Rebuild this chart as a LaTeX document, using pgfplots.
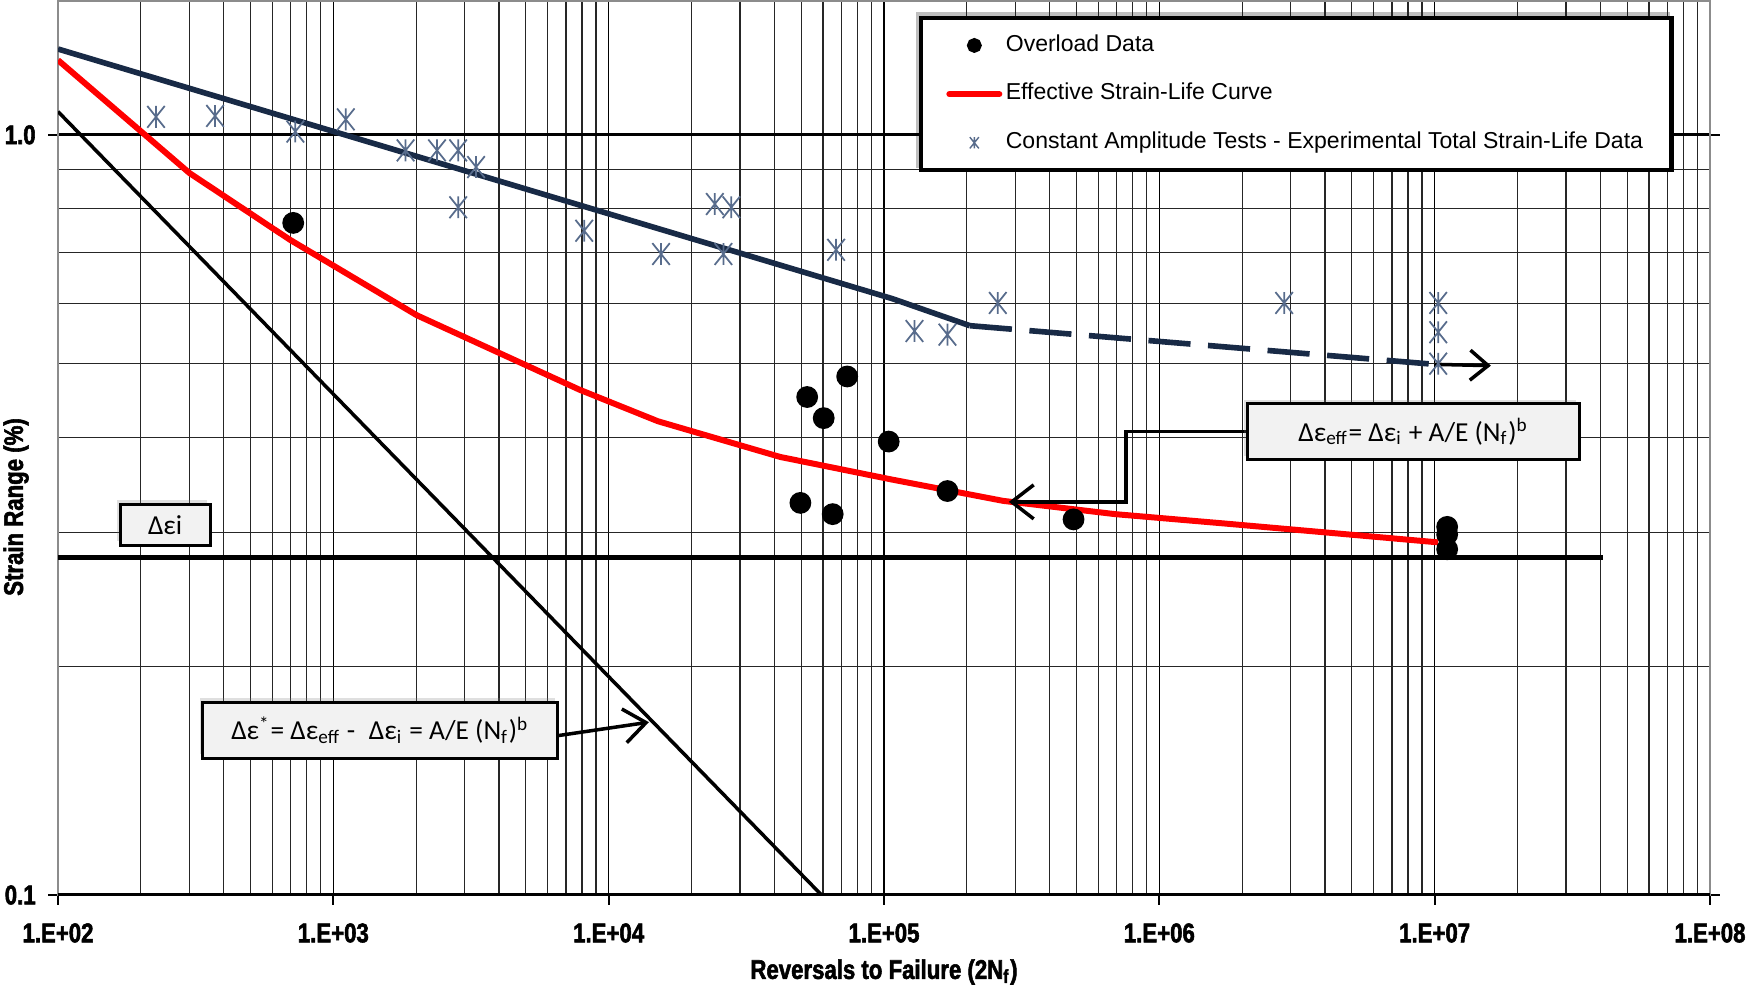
\documentclass[border=0pt]{standalone}
\usepackage{fontspec}
\setmainfont{Liberation Sans}
\newfontfamily\condfont[FakeStretch=0.82,FakeBold=2]{Liberation Sans}
\newfontfamily\boxfont{Carlito}
\usepackage{pgfplots}
\pgfplotsset{compat=1.18}
\usetikzlibrary{arrows.meta,shadows}
\pgfdeclarelayer{background}
\pgfsetlayers{background,main}

\definecolor{navy}{RGB}{24,42,70}
\definecolor{astblue}{RGB}{88,108,140}
\definecolor{boxgray}{RGB}{242,242,242}

% Excel-style star: an x with a vertical bar through it
\pgfdeclareplotmark{xstar}{%
  \pgfpathmoveto{\pgfqpoint{-0.8\pgfplotmarksize}{-\pgfplotmarksize}}%
  \pgfpathlineto{\pgfqpoint{0.8\pgfplotmarksize}{\pgfplotmarksize}}%
  \pgfpathmoveto{\pgfqpoint{-0.8\pgfplotmarksize}{\pgfplotmarksize}}%
  \pgfpathlineto{\pgfqpoint{0.8\pgfplotmarksize}{-\pgfplotmarksize}}%
  \pgfpathmoveto{\pgfqpoint{0pt}{-\pgfplotmarksize}}%
  \pgfpathlineto{\pgfqpoint{0pt}{\pgfplotmarksize}}%
  \pgfusepathqstroke}

% shorter legend images
\pgfplotsset{
  marklegend/.style={legend image code/.code={\draw[##1] plot coordinates {(0.25cm,0cm)};}},
  linelegend/.style={legend image code/.code={\draw[##1] (0cm,0cm) -- (0.5cm,0cm);}},
}

\tikzset{anbox/.style={draw=black, line width=0.9pt, fill=boxgray,
    font=\boxfont\fontsize{7.8}{9}\selectfont, inner sep=1pt, align=center,
    drop shadow={shadow xshift=-0.3mm, shadow yshift=0.4mm, opacity=0.25}}}

\begin{document}
\begin{tikzpicture}
\begin{axis}[
  scale only axis, width=165.2mm, height=89.4mm,
  xmode=log, ymode=log,
  xmin=1e2, xmax=1e8, ymin=0.1, ymax=1.5,
  xtick={1e2,1e3,1e4,1e5,1e6,1e7,1e8},
  xticklabels={1.E+02,1.E+03,1.E+04,1.E+05,1.E+06,1.E+07,1.E+08},
  ytick={0.1,1}, yticklabels={0.1,1.0},
  minor xtick={2e2,3e2,4e2,5e2,6e2,7e2,8e2,9e2,2e3,3e3,4e3,5e3,6e3,7e3,8e3,9e3,
    2e4,3e4,4e4,5e4,6e4,7e4,8e4,9e4,2e5,3e5,4e5,5e5,6e5,7e5,8e5,9e5,
    2e6,3e6,4e6,5e6,6e6,7e6,8e6,9e6,2e7,3e7,4e7,5e7,6e7,7e7,8e7,9e7},
  minor ytick={0.2,0.3,0.4,0.5,0.6,0.7,0.8,0.9},
  grid=both,
  major x grid style={black, line width=0.4pt},
  major y grid style={black, line width=0.8pt},
  minor grid style={black!85, line width=0.35pt},
  axis line style={black!45, line width=0.5pt},
  tick align=outside, major tick length=1mm, minor tick length=0pt,
  tick style={black, line width=0.6pt},
  tick label style={font=\condfont\bfseries\fontsize{7.7}{9}\selectfont},
  xticklabel style={yshift=-0.6mm},
  label style={font=\condfont\bfseries\fontsize{7.7}{9}\selectfont},
  xlabel={Reversals to Failure (2N\textsubscript{f})},
  ylabel={Strain Range (\%)},
  xlabel style={at={(axis description cs:0.5,-0.086)}, anchor=center},
  ylabel style={at={(axis description cs:-0.0254,0.434)}, anchor=center},
  legend cell align=left,
  legend style={name=leg, at={(0.978,0.983)}, anchor=north east, draw=black, very thick,
    fill=white, font=\fontsize{6.55}{7.8}\selectfont,
    inner xsep=2.5mm, inner ysep=2.6pt, row sep=3.6pt,
    nodes={inner xsep=1pt}},
]
\addlegendimage{marklegend, only marks, mark=*, black, mark size=1.5pt}
\addlegendentry{Overload Data}
\addlegendimage{linelegend, red, line width=1.7pt, line cap=round}
\addlegendentry{Effective Strain-Life Curve}
\addlegendimage{marklegend, only marks, mark=xstar, astblue, mark size=1.6pt, line width=0.4pt}
\addlegendentry{Constant Amplitude Tests - Experimental Total Strain-Life Data}

% constant amplitude total strain-life fit
\addplot[navy, line width=1.6pt, forget plot] coordinates {
  (100,1.297) (1.07e5,0.609) (2.05e5,0.561)};
\addplot[navy, line width=1.6pt, dash pattern=on 12pt off 5pt, forget plot] coordinates {
  (2.05e5,0.561) (1.0e7,0.499)};
% A/E (Nf)^b
\addplot[black, line width=1pt, forget plot] coordinates {(100,1.073) (5.93e4,0.1)};
% delta eps_i
\addplot[black, line width=1.3pt, forget plot] coordinates {(100,0.278) (4.08e7,0.278)};
% effective strain-life curve
\addplot[red, line width=1.7pt, forget plot] coordinates {
  (100,1.254) (207,1.0) (300,0.891) (695,0.728) (2010,0.579) (7850,0.462)
  (15100,0.420) (42000,0.377) (107000,0.352) (271000,0.330) (690000,0.317)
  (1750000,0.308) (10300000,0.291)};
% overload data
\addplot[only marks, mark=*, black, mark size=2.9pt, forget plot] coordinates {
  (715,0.766) (5.26e4,0.452) (7.35e4,0.481) (6.04e4,0.424) (1.04e5,0.395)
  (4.97e4,0.328) (6.51e4,0.317) (1.70e5,0.340) (4.88e5,0.312)
  (1.11e7,0.305) (1.11e7,0.298) (1.11e7,0.285)};
% constant amplitude tests
\addplot[only marks, mark=xstar, astblue, mark size=3.1pt, line width=0.5pt, forget plot] coordinates {
  (227,1.056) (372,1.059) (728,1.01) (1110,1.048) (1830,0.954) (2380,0.954)
  (2840,0.954) (3300,0.907) (2840,0.803) (8150,0.748) (1.55e4,0.697)
  (2.43e4,0.811) (2.79e4,0.803) (2.61e4,0.697) (6.70e4,0.706) (1.29e5,0.552)
  (1.70e5,0.546) (2.59e5,0.601) (2.84e6,0.601) (1.03e7,0.601) (1.03e7,0.550)
  (1.03e7,0.500)};

\draw[black, line width=1.2pt] (rel axis cs:0,0) -- (rel axis cs:1,0);
\draw[black, line width=1pt, -{Straight Barb[length=1.8mm,width=3mm]}]
  (axis cs:1.0e7,0.499) -- (axis cs:1.6e7,0.497);
\draw[black, line width=1pt, -{Straight Barb[length=2.2mm,width=3.4mm]}]
  (axis cs:2.11e6,0.407) -- (axis cs:7.57e5,0.407) -- (axis cs:7.57e5,0.329) -- (axis cs:2.84e5,0.329);
\draw[black, line width=1pt, -{Straight Barb[length=2.2mm,width=3.4mm]}]
  (axis cs:6.5e3,0.162) -- (axis cs:1.40e4,0.1688);

\node[anbox, minimum width=33.2mm, minimum height=5.6mm] at (axis cs:8.37e6,0.407)
  {Δε\textsubscript{eff}= Δε\textsubscript{i} + A/E (N\textsubscript{f})\textsuperscript{b}};
\node[anbox, minimum width=35.5mm, minimum height=5.6mm] at (axis cs:1479,0.1648)
  {Δε\textsuperscript{*}= Δε\textsubscript{eff} -\enspace Δε\textsubscript{i} = A/E (N\textsubscript{f})\textsuperscript{b}};
\node[anbox, minimum width=9mm, minimum height=4.1mm] at (axis cs:245,0.307) {Δεi};
\end{axis}
% soft shadow behind the legend box
\begin{pgfonlayer}{background}
\fill[black, opacity=0.25] ([xshift=-0.35mm,yshift=0.45mm]leg.south west)
  rectangle ([xshift=-0.35mm,yshift=0.45mm]leg.north east);
\end{pgfonlayer}
\pgfresetboundingbox
\path[use as bounding box] ([xshift=-5.8mm,yshift=-9.2mm]current axis.south west)
  rectangle ([xshift=3.8mm,yshift=0.1mm]current axis.north east);
\end{tikzpicture}
\end{document}
